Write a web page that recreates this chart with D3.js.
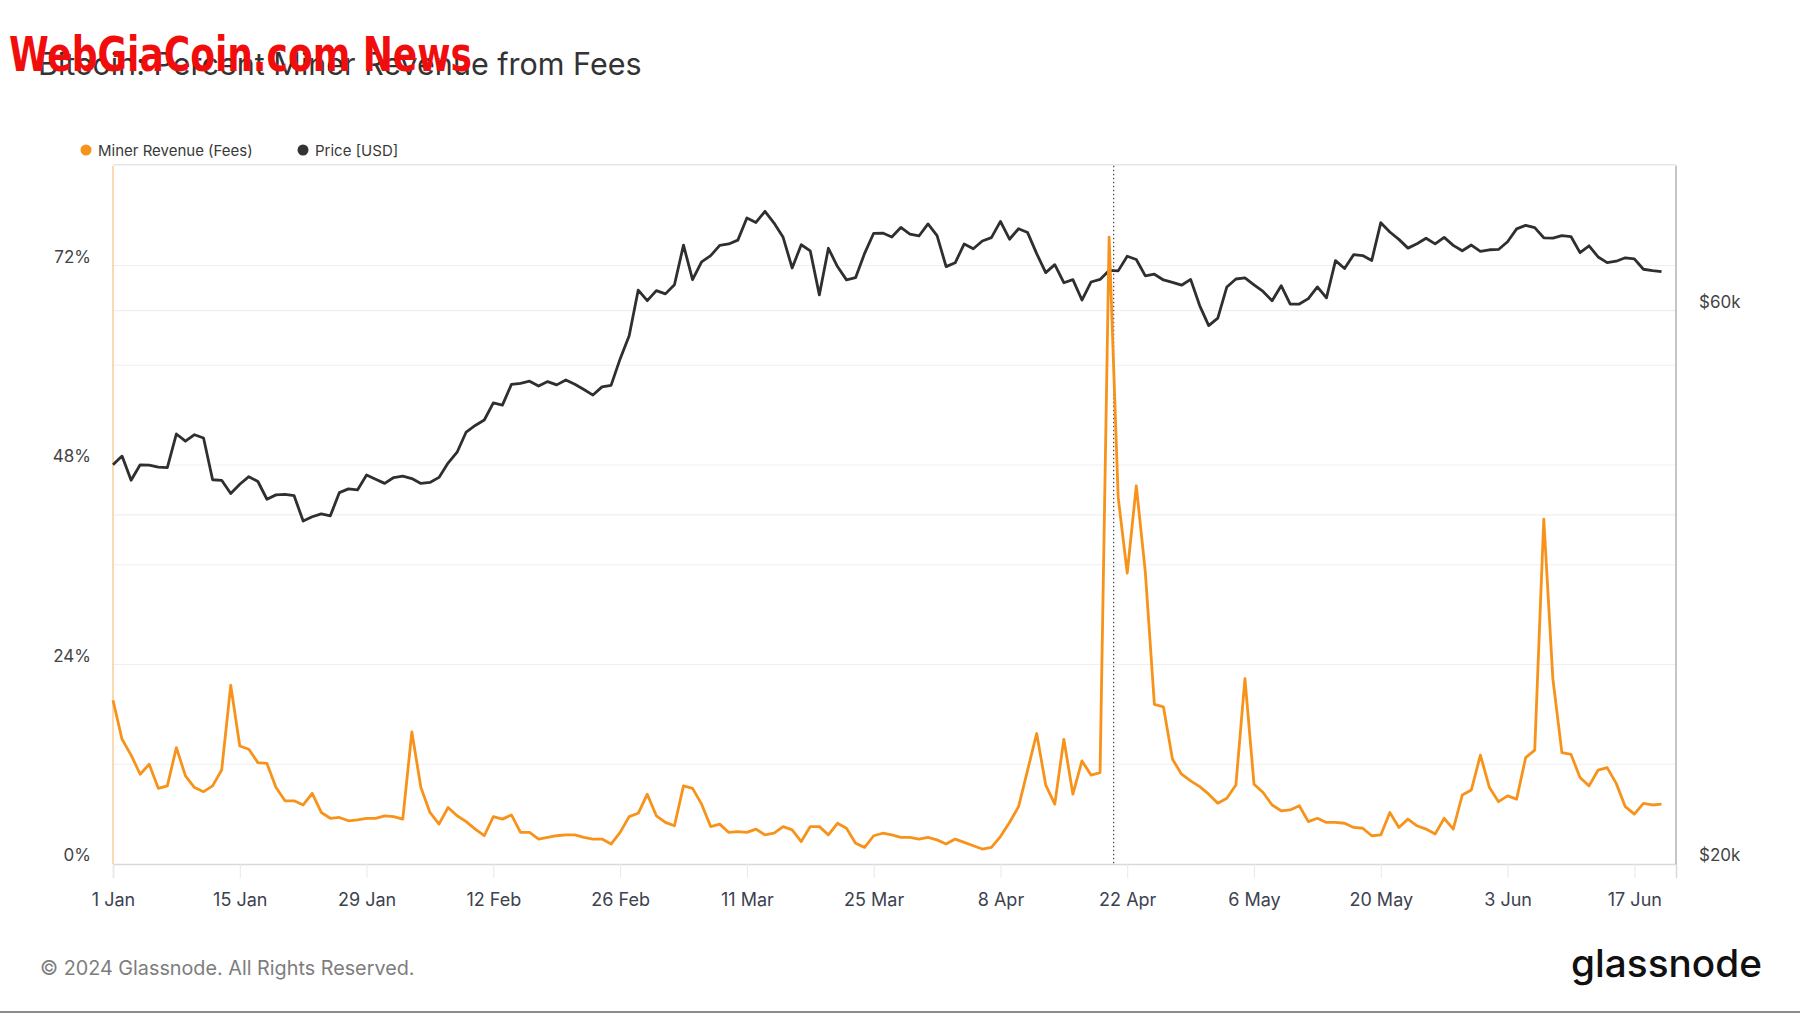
<!DOCTYPE html>
<html>
<head>
<meta charset="utf-8">
<script src="https://cdn.jsdelivr.net/npm/d3@7"></script>
<style>
body { margin: 0; background: #fff; }
svg { display: block; font-family: Inter, "Open Sans", sans-serif; }
</style>
</head>
<body>
<script>
// daily values, 1 Jan 2024 .. 20 Jun 2024
const startDate = "2024-01-01";

const feesPct = [
  19.7, 15.0, 13.1, 10.8, 12.0, 9.1, 9.4, 14.0, 10.6, 9.2, 8.7, 9.4, 11.3, 21.5, 14.2, 13.8,
  12.2, 12.1, 9.2, 7.6, 7.6, 7.1, 8.5, 6.2, 5.5, 5.6, 5.2, 5.3, 5.5, 5.5, 5.8,
  5.7, 5.4, 15.9, 9.2, 6.2, 4.8, 6.8, 5.8, 5.1, 4.2, 3.4, 5.7, 5.4, 5.9, 3.8, 3.8,
  3.0, 3.2, 3.4, 3.5, 3.5, 3.2, 3.0, 3.0, 2.4, 3.8, 5.7, 6.1, 8.4,
  5.8, 5.0, 4.6, 9.4, 9.1, 7.2, 4.5, 4.8, 3.8, 3.9, 3.8, 4.2, 3.5, 3.7, 4.5, 4.1,
  2.7, 4.5, 4.5, 3.5, 4.9, 4.3, 2.5, 2.0, 3.4, 3.7, 3.5, 3.2, 3.2, 3.0, 3.2,
  2.9, 2.4, 3.0, 2.6, 2.2, 1.8, 2.0, 3.3, 5.0, 6.9, 11.3, 15.7, 9.5, 7.2, 15.0,
  8.4, 12.4, 10.7, 11.0, 75.4, 44.1, 35.0, 45.5, 35.1, 19.2, 18.9, 12.6, 10.8, 10.0, 9.3,
  8.4, 7.3, 7.9, 9.5, 22.3, 9.6, 8.6, 7.1, 6.4, 6.5, 7.0, 5.1, 5.5, 5.0, 5.0, 4.9,
  4.4, 4.3, 3.4, 3.5, 6.2, 4.4, 5.4, 4.6, 4.2, 3.6, 5.5, 4.2, 8.3, 8.9, 13.1,
  9.2, 7.5, 8.2, 7.8, 12.8, 13.7, 41.5, 22.3, 13.4, 13.2, 10.4, 9.4, 11.3, 11.6, 9.7,
  6.9, 6.0, 7.3, 7.1, 7.2
];

const priceUsd = [
  44180, 44950, 42850, 44180, 44160, 43970, 43930, 46970, 46300, 46900, 46600, 42890, 42840, 41730, 42510, 43150,
  42740, 41260, 41620, 41670, 41550, 39510, 39850, 40080, 39930, 41810, 42120, 42030, 43300, 42940, 42580,
  43080, 43190, 42990, 42580, 42660, 43090, 44330, 45300, 47150, 47770, 48290, 49960, 49740, 51830, 51940, 52160,
  51660, 52120, 51780, 52280, 51840, 51300, 50740, 51570, 51730, 54520, 57090, 62500, 61200,
  62440, 62030, 63170, 68330, 63800, 66110, 66930, 68300, 68500, 69020, 72120, 71480, 73080, 71400, 69400, 65300,
  68390, 67550, 61910, 67910, 65490, 63780, 64060, 67230, 69960, 69990, 69450, 70780, 69850, 69590, 71280,
  69650, 65480, 65980, 68500, 67840, 68900, 69360, 71630, 69140, 70590, 70060, 67190, 64700, 65740, 63420,
  63810, 61280, 63510, 63840, 64990, 64930, 66840, 66410, 64280, 64500, 63770, 63460, 63110, 63840, 60610,
  58250, 59120, 62890, 63890, 64030, 63160, 62330, 61190, 63050, 60790, 60790, 61450, 62900, 61550, 66270, 65230,
  67050, 66940, 66280, 71450, 70140, 69120, 67930, 68530, 69270, 68510, 69390, 68300, 67570, 68350, 67490,
  67710, 67750, 68800, 70570, 71080, 70760, 69340, 69300, 69650, 69510, 67320, 68240, 66750, 66010, 66190,
  66640, 66490, 65140, 64960, 64830
];

const xTickDates = ["2024-01-01", "2024-01-15", "2024-01-29", "2024-02-12", "2024-02-26", "2024-03-11",
  "2024-03-25", "2024-04-08", "2024-04-22", "2024-05-06", "2024-05-20", "2024-06-03", "2024-06-17"];
const pctGrid = [12, 24, 36, 48, 60, 72];
const pctLabels = [0, 24, 48, 72];
const priceGrid = [40000, 60000];
const priceLabels = [20000, 60000];
const halvingDate = "2024-04-20T12:00:00Z";


var margin = {top: 165.75, right: 124, bottom: 149, left: 113},
    W = 1800, H = 1013,
    width = W - margin.left - margin.right,
    height = H - margin.top - margin.bottom;

var svg = d3.select("body").append("svg")
    .attr("width", W)
    .attr("height", H);

var parseDay = d3.utcParse("%Y-%m-%d");
var t0 = parseDay(startDate);
var dayMs = 864e5;

var x = d3.scaleUtc()
    .domain([t0, new Date(+t0 + 172.6 * dayMs)])
    .range([0, width]);
var y = d3.scaleLinear().domain([0, 84]).range([height, 0]);
var yP = d3.scaleLog().domain([20000, 80000]).range([height, 0]);

var g = svg.append("g")
    .attr("transform", "translate(" + margin.left + "," + margin.top + ")");

// grid
g.selectAll(".gl").data(pctGrid).enter().append("line")
    .attr("x1", 0).attr("x2", width)
    .attr("y1", d => y(d)).attr("y2", d => y(d))
    .attr("stroke", "#efefef").attr("stroke-width", 1.2);
g.selectAll(".gr").data(priceGrid).enter().append("line")
    .attr("x1", 0).attr("x2", width)
    .attr("y1", d => yP(d)).attr("y2", d => yP(d))
    .attr("stroke", "#efefef").attr("stroke-width", 1.2);
g.append("line")
    .attr("x1", 0).attr("x2", width).attr("y1", -1).attr("y2", -1)
    .attr("stroke", "#e6e6e6").attr("stroke-width", 1.5);

// x axis
var xAxis = g.append("g")
    .attr("transform", "translate(0," + height + ")")
    .call(d3.axisBottom(x)
        .tickValues(xTickDates.map(parseDay))
        .tickFormat(d3.utcFormat("%-d %b"))
        .tickSize(14)
        .tickPadding(15));
xAxis.select(".domain").attr("stroke", "#d9d9d9").attr("stroke-width", 1.5);
xAxis.selectAll(".tick line").attr("stroke", "#e8e8e8");
xAxis.selectAll("text")
    .style("font-size", "18px")
    .style("font-family", "Inter")
    .attr("fill", "#3d4250");

// left axis
g.append("line")
    .attr("x1", 0).attr("x2", 0).attr("y1", 0).attr("y2", height)
    .attr("stroke", "#f7c58a").attr("stroke-width", 1.3);
g.selectAll(".yl").data(pctLabels).enter().append("text")
    .attr("x", -22)
    .attr("y", d => y(d) - 3)
    .attr("text-anchor", "end")
    .style("font-size", "17px")
    .attr("fill", "#444")
    .text(d => d + "%");

// right axis
g.append("line")
    .attr("x1", width).attr("x2", width).attr("y1", 0).attr("y2", height)
    .attr("stroke", "#a6a6a6").attr("stroke-width", 1.3);
g.selectAll(".yr").data(priceLabels).enter().append("text")
    .attr("x", width + 23)
    .attr("y", d => yP(d) - 3)
    .style("font-size", "17px")
    .attr("fill", "#444")
    .text(d => "$" + (d / 1000) + "k");

// halving marker
g.append("line")
    .attr("x1", x(new Date(halvingDate))).attr("x2", x(new Date(halvingDate)))
    .attr("y1", 0).attr("y2", height)
    .attr("stroke", "#555").attr("stroke-width", 1.3)
    .attr("stroke-dasharray", "1.5,2.5");

var dayOf = i => new Date(+t0 + i * dayMs);

g.append("path")
    .datum(priceUsd)
    .attr("fill", "none")
    .attr("stroke", "#2f2f2f")
    .attr("stroke-width", 2.8)
    .attr("stroke-linejoin", "round")
    .attr("d", d3.line().x((d, i) => x(dayOf(i))).y(d => yP(d)));

g.append("path")
    .datum(feesPct)
    .attr("fill", "none")
    .attr("stroke", "#f7931a")
    .attr("stroke-width", 2.8)
    .attr("stroke-linejoin", "round")
    .attr("d", d3.line().x((d, i) => x(dayOf(i))).y(d => y(d)));

// legend
var legend = [{name: "Miner Revenue (Fees)", color: "#f7931a", x: 86},
              {name: "Price [USD]", color: "#333", x: 303}];
var lg = svg.selectAll(".lg").data(legend).enter().append("g");
lg.append("circle").attr("cx", d => d.x).attr("cy", 150).attr("r", 5.5).attr("fill", d => d.color);
lg.append("text").attr("x", d => d.x + 12).attr("y", 155.5)
    .style("font-size", "15px").attr("fill", "#3a3a3a").text(d => d.name);

// title + watermark
svg.append("text")
    .attr("x", 38).attr("y", 75)
    .style("font-size", "30.5px")
    .attr("fill", "#333")
    .text("Bitcoin: Percent Miner Revenue from Fees");

svg.append("text")
    .attr("x", 9).attr("y", 71)
    .attr("textLength", 463).attr("lengthAdjust", "spacingAndGlyphs")
    .style("font-family", "'Liberation Sans Narrow', 'DejaVu Sans Condensed', sans-serif")
    .style("font-weight", "bold")
    .style("font-size", "48px")
    .attr("fill", "#f20d0d")
    .text("WebGiaCoin.com News");

// footer
svg.append("text")
    .attr("x", 40).attr("y", 975)
    .style("font-size", "19.8px")
    .attr("fill", "#7d7d7d")
    .text("© 2024 Glassnode. All Rights Reserved.");

svg.append("text")
    .attr("x", 1571).attr("y", 977)
    .attr("textLength", 191).attr("lengthAdjust", "spacingAndGlyphs")
    .style("font-size", "38px")
    .style("font-weight", 500)
    .attr("fill", "#111")
    .text("glassnode");

svg.append("rect")
    .attr("x", 0).attr("y", 1011).attr("width", W).attr("height", 2)
    .attr("fill", "#8c8c8c");
</script>
</body>
</html>
